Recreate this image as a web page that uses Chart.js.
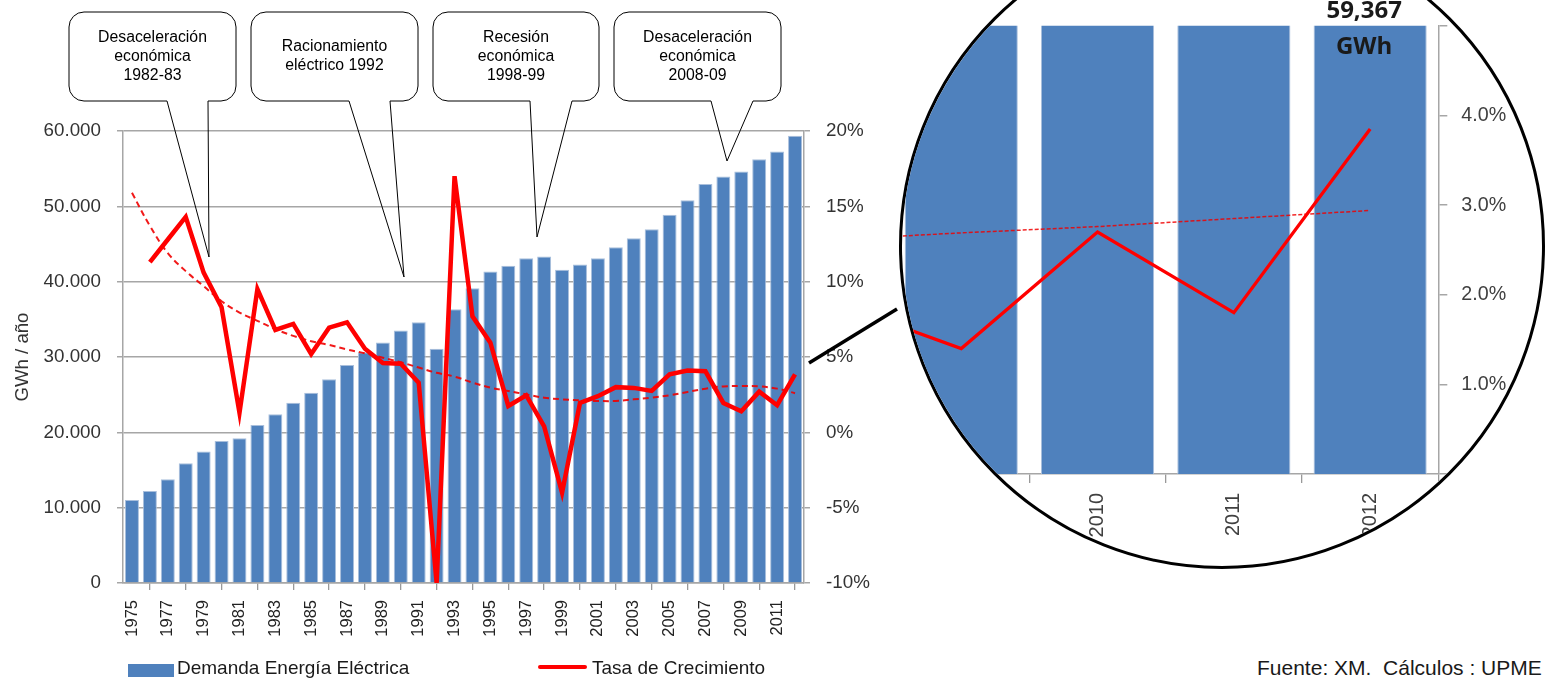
<!DOCTYPE html>
<html lang="es">
<head>
<meta charset="utf-8">
<title>Demanda de energía eléctrica</title>
<script src="https://cdn.jsdelivr.net/npm/chart.js@4.4.1/dist/chart.umd.min.js"></script>
<style>
  html, body { margin: 0; padding: 0; background: #fff; }
  body { width: 1546px; height: 680px; position: relative; overflow: hidden; font-family: "Liberation Sans", Arial, sans-serif; }
  #main { position: absolute; left: 0; top: 0; }
  #lupa { position: absolute; left: 899px; top: -77px; width: 646px; height: 646px; box-sizing: border-box;
          border: 3px solid #000; border-radius: 50%; overflow: hidden; background: #fff; }
  #zoom { position: absolute; left: -202px; top: 74px; }
  .txt { position: absolute; top: 658px; font-size: 19px; line-height: 20px; color: #1a1a1a; white-space: pre; }
  #cajaAzul { position: absolute; left: 128px; top: 664px; width: 46px; height: 13px; background: #4f81bd; }
  #lineaRoja { position: absolute; left: 538px; top: 665px; width: 49px; height: 4px; border-radius: 2px; background: #ff0000; }
</style>
</head>
<body>
<canvas id="main" width="900" height="680"></canvas>
<div id="lupa"><canvas id="zoom" width="850" height="600"></canvas></div>

<div id="cajaAzul"></div>
<div class="txt" style="left:177px">Demanda Energía Eléctrica</div>
<div id="lineaRoja"></div>
<div class="txt" style="left:592px">Tasa de Crecimiento</div>
<div class="txt" style="left:1257px; font-size:21px">Fuente: XM.  Cálculos : UPME</div>

<script>
// Datos
const years = ['1975','1976','1977','1978','1979','1980','1981','1982','1983','1984',
  '1985','1986','1987','1988','1989','1990','1991','1992','1993','1994',
  '1995','1996','1997','1998','1999','2000','2001','2002','2003','2004',
  '2005','2006','2007','2008','2009','2010','2011','2012'];

// GWh / año
const demand = [11020, 12220, 13770, 15900, 17440, 18860, 19220, 20980, 22400, 23940,
  25270, 27050, 28950, 30640, 31920, 33510, 34620, 31080, 36350, 39130,
  41340, 42100, 43120, 43340, 41570, 42280, 43120, 44580, 45770, 46970,
  48870, 50820, 52950, 53960, 54620, 56260, 57280, 59367];

// tasa de crecimiento (%)
const growth = [null, 11.3, 12.8, 14.3, 10.6, 8.3, 1.3, 9.5, 6.8, 7.2,
  5.2, 6.95, 7.3, 5.55, 4.6, 4.55, 3.3, -10.0, 17.0, 7.7,
  5.95, 1.75, 2.45, 0.4, -4.0, 1.95, 2.4, 3.0, 2.95, 2.75,
  3.85, 4.1, 4.05, 1.95, 1.4, 2.7, 1.8, 3.85];

// tendencia (línea punteada)
const trend = [15.9, 13.7, 11.9, 10.7, 9.7, 8.7, 7.95, 7.4, 6.85, 6.4,
  6.05, 5.8, 5.5, 5.25, 4.95, 4.65, 4.3, 3.95, 3.7, 3.3,
  2.97, 2.74, 2.52, 2.3, 2.19, 2.12, 2.08, 2.08, 2.19, 2.3,
  2.46, 2.68, 2.9, 3.05, 3.07, 3.05, 2.9, 2.6];

// tendencia en la ampliación (últimos 5 años)
const zoomTrend = [2.61, 2.69, 2.76, 2.85, 2.94];

const leftTicks = [0, 10000, 20000, 30000, 40000, 50000, 60000];
const rightTicks = [-10, -5, 0, 5, 10, 15, 20];
const zoomTicks = [0, 1, 2, 3, 4, 5];

const callouts = [
  { lines: ['Desaceleración', 'económica', '1982-83'], box: [69, 12, 236, 101], base: [167, 208], tip: [209, 257] },
  { lines: ['Racionamiento', 'eléctrico 1992'], box: [251, 12, 418, 101], base: [349, 390], tip: [404, 277] },
  { lines: ['Recesión', 'económica', '1998-99'], box: [433, 12, 599, 101], base: [530, 572], tip: [537, 237] },
  { lines: ['Desaceleración', 'económica', '2008-09'], box: [614, 12, 781, 101], base: [711, 753], tip: [727, 161] }
];

Chart.defaults.font.family = "'Liberation Sans', Arial, sans-serif";
Chart.defaults.color = '#333';

const fmtMiles = v => String(v).replace(/\B(?=(\d{3})+(?!\d))/g, '.');
const GRIS = '#a6a6a6';

// globos de texto + línea hacia la ampliación
const calloutPlugin = {
  id: 'llamadas',
  afterDraw(chart) {
    const ctx = chart.ctx;
    ctx.save();
    callouts.forEach(c => {
      const [x1, y1, x2, y2] = c.box;
      const r = 15;
      ctx.beginPath();
      ctx.moveTo(x1 + r, y1);
      ctx.lineTo(x2 - r, y1);
      ctx.arcTo(x2, y1, x2, y1 + r, r);
      ctx.lineTo(x2, y2 - r);
      ctx.arcTo(x2, y2, x2 - r, y2, r);
      ctx.lineTo(c.base[1], y2);
      ctx.lineTo(c.tip[0], c.tip[1]);
      ctx.lineTo(c.base[0], y2);
      ctx.lineTo(x1 + r, y2);
      ctx.arcTo(x1, y2, x1, y2 - r, r);
      ctx.lineTo(x1, y1 + r);
      ctx.arcTo(x1, y1, x1 + r, y1, r);
      ctx.closePath();
      ctx.strokeStyle = '#000';
      ctx.lineWidth = 1;
      ctx.stroke();

      ctx.fillStyle = '#000';
      ctx.font = "15.8px 'Liberation Sans', Arial, sans-serif";
      ctx.textAlign = 'center';
      ctx.textBaseline = 'middle';
      const cx = (x1 + x2) / 2;
      const y0 = (y1 + y2) / 2 - (c.lines.length - 1) * 19 / 2;
      c.lines.forEach((t, i) => ctx.fillText(t, cx, y0 + i * 19));
    });

    ctx.beginPath();
    ctx.moveTo(809, 363);
    ctx.lineTo(897, 309);
    ctx.strokeStyle = '#000';
    ctx.lineWidth = 3.5;
    ctx.stroke();
    ctx.restore();
  }
};

new Chart(document.getElementById('main'), {
  type: 'bar',
  data: {
    labels: years,
    datasets: [
      {
        label: 'Tasa de Crecimiento',
        type: 'line',
        data: growth,
        yAxisID: 'y1',
        borderColor: '#ff0000',
        borderWidth: 4.5,
        pointRadius: 0,
        tension: 0,
        order: 1
      },
      {
        label: 'Tendencia',
        type: 'line',
        data: trend,
        yAxisID: 'y1',
        borderColor: 'rgba(240,0,0,0.9)',
        borderWidth: 2,
        borderDash: [6, 4],
        pointRadius: 0,
        tension: 0.4,
        order: 2
      },
      {
        label: 'Demanda Energía Eléctrica',
        data: demand,
        yAxisID: 'y',
        backgroundColor: '#4f81bd',
        borderColor: '#a9bfdc',
        borderWidth: 1,
        barPercentage: 0.78,
        categoryPercentage: 1,
        order: 3
      }
    ]
  },
  options: {
    responsive: false,
    animation: false,
    layout: { padding: { top: 131, left: 0, right: 0, bottom: 0 } },
    plugins: { legend: { display: false }, tooltip: { enabled: false } },
    scales: {
      x: {
        afterFit: s => { s.height = 97; },
        grid: { drawOnChartArea: false, tickLength: 7, color: '#999', lineWidth: 1.3 },
        border: { color: GRIS, width: 1.5 },
        ticks: {
          autoSkip: false, maxRotation: 90, minRotation: 90, padding: 10,
          font: { size: 16.5 }, color: '#222',
          callback: (v, i) => (i % 2 === 0 ? years[i] : null)
        }
      },
      y: {
        position: 'left',
        min: leftTicks[0], max: leftTicks[leftTicks.length - 1],
        afterFit: s => { s.width = 123; },
        afterBuildTicks: s => { s.ticks = leftTicks.map(v => ({ value: v })); },
        grid: { color: GRIS, lineWidth: 1.5, tickLength: 6 },
        border: { color: GRIS, width: 1.5 },
        ticks: { padding: 16, font: { size: 18.8 }, color: '#333', callback: v => fmtMiles(v) },
        title: { display: true, text: 'GWh / año', font: { size: 18.6 }, color: '#333', padding: { top: 12, bottom: 0 } }
      },
      y1: {
        position: 'right',
        min: rightTicks[0], max: rightTicks[rightTicks.length - 1],
        afterFit: s => { s.width = 96; },
        afterBuildTicks: s => { s.ticks = rightTicks.map(v => ({ value: v })); },
        grid: { drawOnChartArea: false, color: GRIS, lineWidth: 1.5, tickLength: 6 },
        border: { color: GRIS, width: 1.5 },
        ticks: { padding: 16, font: { size: 18.8 }, color: '#333', callback: v => v + '%' }
      }
    }
  },
  plugins: [calloutPlugin]
});

// ampliación de los últimos años
const n = 5;
const zoomYears = years.slice(-n);
const zoomDemand = demand.slice(-n);
const zoomGrowth = growth.slice(-n);

const valuePlugin = {
  id: 'valorFinal',
  afterDatasetsDraw(chart) {
    const ctx = chart.ctx;
    const x = chart.scales.x.getPixelForValue(n - 1) - 6;
    ctx.save();
    ctx.fillStyle = '#1a1a1a';
    ctx.font = "bold 24px 'Open Sans', sans-serif";
    ctx.textAlign = 'center';
    ctx.textBaseline = 'middle';
    ctx.fillText(zoomDemand[n - 1].toLocaleString('en-US'), x, 11);
    ctx.fillText('GWh', x, 47);
    ctx.restore();
  }
};

new Chart(document.getElementById('zoom'), {
  type: 'bar',
  data: {
    labels: zoomYears,
    datasets: [
      {
        type: 'line',
        data: zoomGrowth,
        yAxisID: 'y',
        borderColor: '#ff0000',
        borderWidth: 3.3,
        pointRadius: 0,
        tension: 0,
        order: 1
      },
      {
        type: 'line',
        data: zoomTrend,
        yAxisID: 'y',
        borderColor: 'rgba(240,0,0,0.85)',
        borderWidth: 1.5,
        borderDash: [4, 2],
        pointRadius: 0,
        tension: 0,
        order: 2
      },
      {
        data: zoomDemand,
        yAxisID: 'yb',
        backgroundColor: '#4f81bd',
        borderColor: '#a9bfdc',
        borderWidth: 1,
        barPercentage: 0.83,
        categoryPercentage: 1,
        clip: 0,
        order: 3
      }
    ]
  },
  options: {
    responsive: false,
    animation: false,
    layout: { padding: { top: 21.7, left: 56.8, right: 0, bottom: 0 } },
    plugins: { legend: { display: false }, tooltip: { enabled: false } },
    scales: {
      x: {
        afterFit: s => { s.height = 126; },
        grid: { drawOnChartArea: false, tickLength: 9, color: '#999', lineWidth: 1.3 },
        border: { color: GRIS, width: 1.5 },
        ticks: { autoSkip: false, maxRotation: 90, minRotation: 90, padding: 10, font: { size: 20 }, color: '#404040' }
      },
      yb: { display: false, min: 0, max: 50000 },
      y: {
        position: 'right',
        min: zoomTicks[0], max: zoomTicks[zoomTicks.length - 1],
        afterFit: s => { s.width = 111.7; },
        afterBuildTicks: s => { s.ticks = zoomTicks.map(v => ({ value: v })); },
        grid: { drawOnChartArea: false, color: GRIS, lineWidth: 1.5, tickLength: 9 },
        border: { color: GRIS, width: 1.5 },
        ticks: { padding: 14, font: { size: 19.7 }, color: '#404040', callback: v => v.toFixed(1) + '%' }
      }
    }
  },
  plugins: [valuePlugin]
});
</script>
</body>
</html>
